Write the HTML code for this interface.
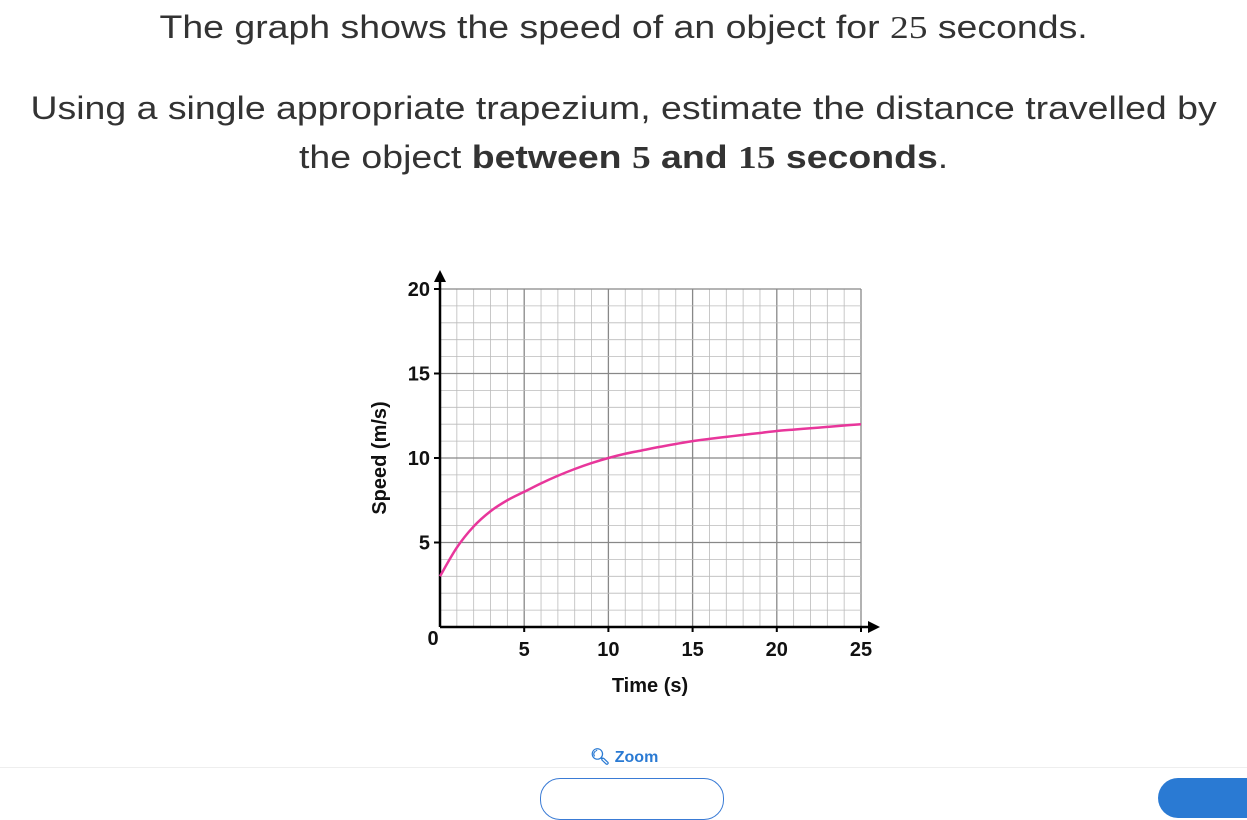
<!DOCTYPE html>
<html><head><meta charset="utf-8"><style>
body{margin:0;width:1247px;height:787px;background:#fff;overflow:hidden;position:relative;font-family:"Liberation Sans",sans-serif;color:#333;}
.q{position:absolute;left:0;width:1247px;text-align:center;font-size:32px;transform:scaleX(1.17);transform-origin:623px 0;}
</style></head><body>
<div class="q" style="top:9px">The graph shows the speed of an object for <span style="font-family:'Liberation Serif',serif">25</span> seconds.</div>
<div class="q" style="top:90px">Using a single appropriate trapezium, estimate the distance travelled by</div>
<div class="q" style="top:139px">the object <b>between <span style="font-family:'Liberation Serif',serif">5</span> and <span style="font-family:'Liberation Serif',serif">15</span> seconds</b>.</div>
<svg id="chart" width="1247" height="787" style="position:absolute;left:0;top:0"></svg>
<div style="position:absolute;left:590px;top:747px;font-size:16px;font-weight:bold;color:#2a7ad3">&#128269;&#xFE0E; Zoom</div>
<div style="position:absolute;left:0;top:767px;width:1247px;height:1px;background:#eee"></div>
<div style="position:absolute;left:540px;top:778px;width:182px;height:40px;border:1.5px solid #3a7bd5;border-radius:20px"></div>
<div style="position:absolute;left:1158px;top:778px;width:100px;height:40px;background:#2a7ad3;border-radius:20px 0 0 20px"></div>
<script>
const times=[0,1,2,3,4,5,6,7,8,9,10,11,12,13,14,15,16,17,18,19,20,21,22,23,24,25];
const speeds=[3,4.7,5.95,6.85,7.5,8,8.5,8.95,9.35,9.7,10,10.25,10.45,10.65,10.83,11,11.13,11.25,11.37,11.48,11.6,11.68,11.76,11.84,11.92,12];
const xTicks=[0,5,10,15,20,25];
const yTicks=[5,10,15,20];
const X0=440,X1=861,Y0=627,Y1=289;
const sx=v=>X0+(X1-X0)*v/25, sy=v=>Y0-(Y0-Y1)*v/20;
const svg=document.getElementById('chart');const NS='http://www.w3.org/2000/svg';
function mk(t,a){const e=document.createElementNS(NS,t);for(const k in a)e.setAttribute(k,a[k]);svg.appendChild(e);return e;}
for(let i=1;i<=25;i++){const major=i%5===0;const l=mk('line',{x1:sx(i),x2:sx(i),y1:Y0,y2:Y1,stroke:major?'#888':'#bbb','stroke-width':major?1.3:0.8});

}
for(let i=1;i<=20;i++){const major=i%5===0;const l=mk('line',{x1:X0,x2:X1,y1:sy(i),y2:sy(i),stroke:major?'#888':'#bbb','stroke-width':major?1.3:0.8});

}
const ax=mk('path',{d:`M${X0} ${Y0}H${X1+10}M${X0} ${Y0}V${Y1-10}`,stroke:'#000','stroke-width':2.5,fill:'none'});


const ar=mk('path',{d:`M${X1+19} ${Y0}l-12 -6v12zM${X0} ${Y1-19}l-6 12h12z`,fill:'#000'});


const F='font-family:"Liberation Sans Narrow","Liberation Sans",sans-serif;font-weight:bold;font-size:20px';
xTicks.forEach(v=>{const t=mk('text',{x:v===0?sx(v)-7:sx(v),y:v===0?645:656,'text-anchor':'middle',style:F,fill:'#111'});t.textContent=v;


if(v>0){const k=mk('line',{x1:sx(v),x2:sx(v),y1:Y0,y2:Y0+5,stroke:'#000','stroke-width':2});

}});
yTicks.forEach(v=>{const t=mk('text',{x:X0-10,y:sy(v)+7,'text-anchor':'end',style:F,fill:'#111'});t.textContent=v;


const k=mk('line',{x1:X0-6,x2:X0,y1:sy(v),y2:sy(v),stroke:'#000','stroke-width':2});

});
const xt=mk('text',{x:650,y:692,'text-anchor':'middle',style:F,fill:'#111'});xt.textContent='Time (s)';


const yt=mk('text',{x:0,y:0,'text-anchor':'middle',style:F,fill:'#111',transform:'translate(386,458) rotate(-90)'});yt.textContent='Speed (m/s)';


const P=times.map((t,i)=>[sx(t),sy(speeds[i])]);
let d='M'+P[0][0]+' '+P[0][1];
for(let i=0;i<P.length-1;i++){const p0=P[Math.max(0,i-1)],p1=P[i],p2=P[i+1],p3=P[Math.min(P.length-1,i+2)];
d+=`C${p1[0]+(p2[0]-p0[0])/6} ${p1[1]+(p2[1]-p0[1])/6} ${p2[0]-(p3[0]-p1[0])/6} ${p2[1]-(p3[1]-p1[1])/6} ${p2[0]} ${p2[1]}`;}
const c=mk('path',{d:d,stroke:'#e8369b','stroke-width':2.5,fill:'none','stroke-linejoin':'round'});


</script>
</body></html>
